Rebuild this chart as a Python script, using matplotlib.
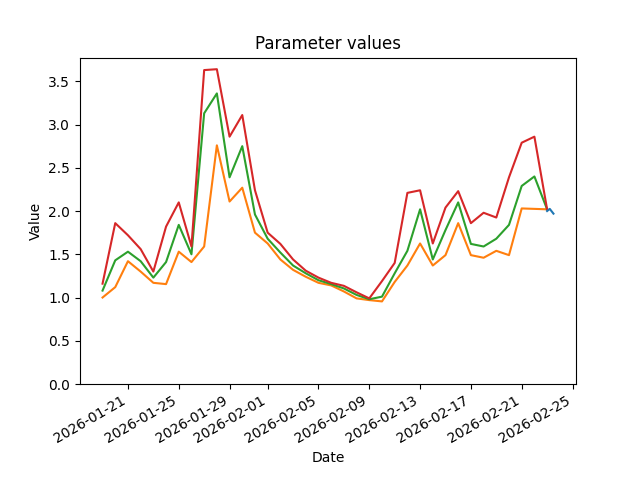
import matplotlib
matplotlib.use("Agg")
import matplotlib.pyplot as plt
import pandas as pd

dates = pd.date_range("2026-01-19", periods=36, freq="D")

red = [1.16, 1.86, 1.72, 1.56, 1.30, 1.82, 2.10, 1.59, 3.63, 3.64, 2.86, 3.11,
       2.24, 1.75, 1.62, 1.44, 1.31, 1.23, 1.17, 1.135, 1.06, 0.99, 1.19, 1.40,
       2.21, 2.24, 1.625, 2.04, 2.23, 1.86, 1.98, 1.925, 2.39, 2.79, 2.86, 2.02]
green = [1.08, 1.43, 1.53, 1.42, 1.23, 1.41, 1.84, 1.50, 3.13, 3.36, 2.39, 2.75,
         1.96, 1.68, 1.52, 1.37, 1.28, 1.20, 1.155, 1.105, 1.03, 0.98, 1.01, 1.28,
         1.54, 2.02, 1.44, 1.78, 2.10, 1.62, 1.59, 1.68, 1.84, 2.29, 2.40, 2.02]
orange = [1.00, 1.12, 1.42, 1.30, 1.17, 1.155, 1.53, 1.41, 1.59, 2.76, 2.11, 2.27,
          1.75, 1.625, 1.44, 1.32, 1.24, 1.17, 1.14, 1.07, 0.99, 0.97, 0.955, 1.18,
          1.37, 1.625, 1.37, 1.49, 1.86, 1.49, 1.46, 1.54, 1.49, 2.03, 2.025, 2.02]

blue_dates = pd.to_datetime(["2026-02-23 00:00", "2026-02-23 05:00", "2026-02-23 12:00"])
blue = [2.00, 2.025, 1.97]

fig, ax = plt.subplots(figsize=(6.4, 4.8), dpi=100)
ax.plot(blue_dates, blue, color="C0", zorder=3)
ax.plot(dates, orange, color="C1")
ax.plot(dates, green, color="C2")
ax.plot(dates, red, color="C3")
ax.set_ylim(bottom=0)
ax.set_title("Parameter values")
ax.set_xlabel("Date")
ax.set_ylabel("Value")
fig.autofmt_xdate()
fig.savefig("out.png")
